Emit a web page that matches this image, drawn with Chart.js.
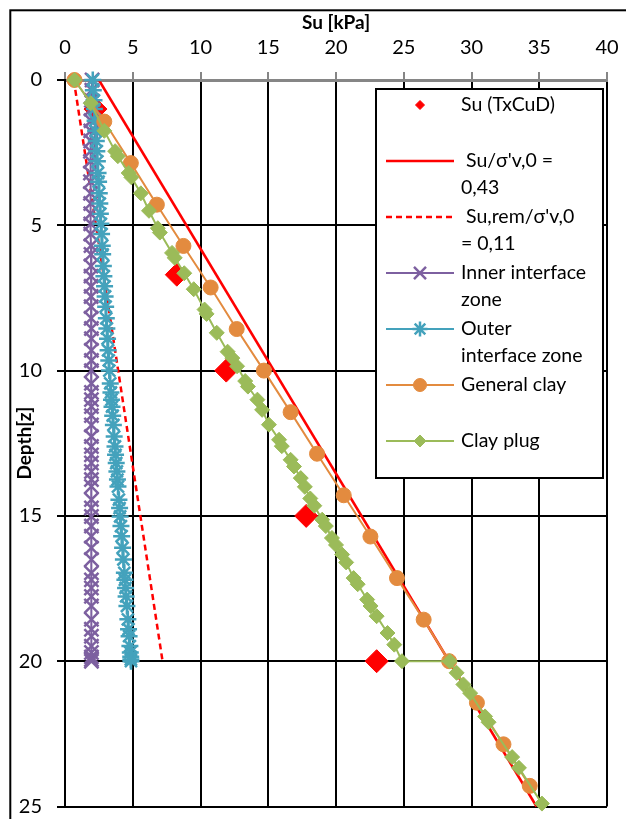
<!DOCTYPE html>
<html>
<head>
<meta charset="utf-8">
<title>Su profile</title>
<script src="https://cdn.jsdelivr.net/npm/chart.js@4.4.0/dist/chart.umd.min.js"></script>
<style>
  html, body { margin: 0; padding: 0; background: #fff; }
  canvas { display: block; }
</style>
</head>
<body>
<canvas id="chart-su" width="626" height="819"></canvas>
<script>
// ===============================
// Dados
// ===============================
const suTicks = [0, 5, 10, 15, 20, 25, 30, 35, 40];
const depthTicks = [0, 5, 10, 15, 20, 25];

const seriesLabels = [
  "Su (TxCuD)",
  " Su/σ'v,0 =\n0,43",
  " Su,rem/σ'v,0\n= 0,11",
  "Inner interface\nzone",
  "Outer\ninterface zone",
  "General clay",
  "Clay plug"
];

// Ensaios triaxiais
const txDepth = [1.0, 6.7, 10.0, 15.0, 20.0];
const txSu = [2.25, 8.25, 11.9, 17.8, 23.0];

// Linhas de referência
const ratioDepth = [0, 25];
const ratioSu = [2.5, 34.8];
const remDepth = [0, 20];
const remSu = [0.65, 7.2];

// Zonas de interface (mesmos nós)
const interfaceDepth = [
  0, 0.35, 0.7, 1.0, 1.4, 1.75, 2.1, 2.45, 2.8, 3.2,
  3.5, 3.9, 4.25, 4.6, 4.95, 5.3, 5.7, 6.0, 6.4, 6.75,
  7.1, 7.45, 7.8, 8.2, 8.55, 8.9, 9.3, 9.65, 10.0, 10.44,
  10.75, 11.0, 11.24, 11.55, 11.87, 12.27, 12.61, 12.9, 13.18, 13.47,
  13.75, 13.99, 14.44, 14.73, 15.02, 15.35, 15.7, 16.1, 16.5, 16.96,
  17.2, 17.48, 17.77, 18.1, 18.56, 18.9, 19.14, 19.48, 19.7, 19.85,
  19.94, 20.0
];
const innerSu = [
  2.0, 1.98, 1.95, 1.93, 1.92, 1.9, 1.9, 1.88, 1.88, 1.88,
  1.88, 1.88, 1.9, 1.9, 1.9, 1.9, 1.92, 1.92, 1.92, 1.92,
  1.93, 1.93, 1.93, 1.93, 1.95, 1.95, 1.95, 1.95, 1.95, 1.95,
  1.95, 1.95, 1.95, 1.95, 1.95, 1.95, 1.95, 1.95, 1.95, 1.95,
  1.95, 1.95, 1.95, 1.95, 1.95, 1.95, 1.95, 1.95, 1.95, 1.95,
  1.95, 1.95, 1.95, 1.95, 1.95, 1.95, 1.95, 1.95, 1.95, 1.95,
  1.95, 1.95
];
const outerSu = [
  2.05, 2.09, 2.14, 2.17, 2.22, 2.26, 2.31, 2.35, 2.39, 2.44,
  2.48, 2.53, 2.57, 2.61, 2.65, 2.7, 2.75, 2.78, 2.83, 2.87,
  2.92, 2.96, 3.0, 3.05, 3.09, 3.14, 3.18, 3.23, 3.27, 3.34,
  3.39, 3.43, 3.47, 3.52, 3.57, 3.63, 3.69, 3.73, 3.78, 3.83,
  3.87, 3.91, 3.98, 4.03, 4.07, 4.13, 4.18, 4.25, 4.31, 4.38,
  4.42, 4.47, 4.51, 4.57, 4.64, 4.69, 4.73, 4.79, 4.82, 4.85,
  4.86, 4.87
];

// Argila geral
const clayDepth = [0, 1.43, 2.86, 4.29, 5.71, 7.14, 8.57, 10.0, 11.43, 12.86, 14.29, 15.71, 17.14, 18.57, 20.0, 21.43, 22.86, 24.29];
const claySu = [0.7, 2.9, 4.86, 6.78, 8.74, 10.75, 12.67, 14.68, 16.65, 18.6, 20.57, 22.54, 24.5, 26.47, 28.35, 30.4, 32.36, 34.3];

// Plug de argila
const plugDepth = [
  0, 0.8, 1.75, 2.45, 2.62, 3.2, 3.35, 3.9, 4.5, 5.1,
  5.25, 5.95, 6.12, 6.65, 7.2, 7.9, 8.05, 8.7, 9.35, 9.57,
  9.85, 10.36, 10.55, 11.0, 11.35, 11.86, 12.38, 12.6, 13.07, 13.3,
  13.7, 14.0, 14.4, 14.65, 15.13, 15.35, 15.76, 16.0, 16.33, 16.6,
  17.14, 17.35, 17.88, 18.1, 18.45, 19.03, 19.43, 20.0, 20.0, 20.4,
  20.8, 21.1, 21.9, 22.1, 23.3, 23.67, 24.9
];
const plugSu = [
  0.7, 1.9, 2.9, 3.7, 3.9, 4.7, 4.9, 5.6, 6.2, 6.85,
  7.0, 7.9, 8.1, 8.8, 9.5, 10.3, 10.45, 11.2, 12.0, 12.35,
  12.7, 13.3, 13.5, 14.2, 14.55, 15.05, 15.8, 16.0, 16.65, 16.9,
  17.4, 17.7, 18.1, 18.4, 18.98, 19.25, 19.7, 20.0, 20.45, 20.75,
  21.3, 21.6, 22.3, 22.55, 23.0, 23.8, 24.3, 24.87, 28.4, 28.9,
  29.4, 29.9, 31.0, 31.26, 33.0, 33.5, 35.2
];

// Cores
const RED = "#FF0000";
const PURPLE = "#7D60A0";
const TEAL = "#44A2BC";
const ORANGE = "#E38B3F";
const GREEN = "#9BBB59";
const FONT = "Lato, 'Liberation Sans', sans-serif";

function toPoints(xs, ys) {
  return xs.map((x, i) => ({ x: x, y: ys[i] }));
}

function label(i) {
  return seriesLabels[i].replace("\n", " ").trim();
}

// ===============================
// Séries
// ===============================
const datasets = [
  {
    label: label(0),
    data: toPoints(txSu, txDepth),
    showLine: false,
    pointStyle: "rectRot",
    pointRadius: 11.5,
    pointBorderWidth: 1,
    pointBackgroundColor: RED,
    pointBorderColor: RED,
    legendRadius: 4.5,
    order: 6
  },
  {
    label: label(1),
    data: toPoints(ratioSu, ratioDepth),
    showLine: true,
    borderColor: RED,
    borderWidth: 2.5,
    pointRadius: 0,
    order: 5
  },
  {
    label: label(2),
    data: toPoints(remSu, remDepth),
    showLine: true,
    borderColor: RED,
    borderWidth: 2.5,
    borderDash: [6, 4],
    pointRadius: 0,
    order: 4
  },
  {
    label: label(3),
    data: toPoints(innerSu, interfaceDepth),
    showLine: true,
    borderColor: PURPLE,
    borderWidth: 2,
    pointStyle: "crossRot",
    pointRadius: 10,
    pointBorderWidth: 2.5,
    pointBackgroundColor: PURPLE,
    pointBorderColor: PURPLE,
    legendRadius: 8.5,
    order: 3
  },
  {
    label: label(4),
    data: toPoints(outerSu, interfaceDepth),
    showLine: true,
    borderColor: TEAL,
    borderWidth: 2,
    pointStyle: "star",
    pointRadius: 8.5,
    pointBorderWidth: 2.5,
    pointBackgroundColor: TEAL,
    pointBorderColor: TEAL,
    legendRadius: 7.5,
    order: 2
  },
  {
    label: label(5),
    data: toPoints(claySu, clayDepth),
    showLine: true,
    borderColor: ORANGE,
    borderWidth: 2,
    pointStyle: "circle",
    pointRadius: 7.5,
    pointBorderWidth: 1,
    pointBackgroundColor: ORANGE,
    pointBorderColor: ORANGE,
    legendRadius: 6.5,
    order: 1
  },
  {
    label: label(6),
    data: toPoints(plugSu, plugDepth),
    showLine: true,
    borderColor: GREEN,
    borderWidth: 2,
    pointStyle: "rectRot",
    pointRadius: 7.5,
    pointBorderWidth: 1,
    pointBackgroundColor: GREEN,
    pointBorderColor: GREEN,
    legendRadius: 6,
    order: 0
  }
];
datasets.forEach(ds => { ds.clip = false; ds.tension = 0; });

// ===============================
// Plugins: moldura e legenda
// ===============================
const chartFrame = {
  id: "chartFrame",
  beforeDraw(chart) {
    const ctx = chart.ctx;
    ctx.save();
    ctx.strokeStyle = "#000";
    ctx.lineWidth = 2;
    ctx.strokeRect(10.3, 10.3, 700, 900);
    ctx.restore();
  }
};

const legendBox = {
  id: "legendBox",
  afterDraw(chart) {
    const ctx = chart.ctx;
    const box = { left: 376, top: 89, width: 227, height: 389 };
    ctx.save();
    ctx.fillStyle = "#fff";
    ctx.fillRect(box.left, box.top, box.width, box.height);
    ctx.strokeStyle = "#000";
    ctx.lineWidth = 2;
    ctx.strokeRect(box.left, box.top, box.width, box.height);

    chart.data.datasets.forEach((ds, i) => {
      const y = 105 + i * 56;
      if (ds.showLine) {
        ctx.beginPath();
        ctx.strokeStyle = ds.borderColor;
        ctx.lineWidth = ds.borderWidth;
        ctx.setLineDash(ds.borderDash || []);
        ctx.moveTo(386, y);
        ctx.lineTo(454, y);
        ctx.stroke();
        ctx.setLineDash([]);
      }
      if (ds.pointRadius > 0) {
        ctx.fillStyle = ds.pointBackgroundColor;
        ctx.strokeStyle = ds.pointBorderColor;
        ctx.lineWidth = ds.pointBorderWidth;
        Chart.helpers.drawPoint(ctx, {
          pointStyle: ds.pointStyle,
          radius: ds.legendRadius,
          borderWidth: ds.pointBorderWidth,
          rotation: 0
        }, 420, y);
      }
      ctx.fillStyle = "#000";
      ctx.font = "19.5px " + FONT;
      ctx.textAlign = "left";
      ctx.textBaseline = "middle";
      seriesLabels[i].split("\n").forEach((line, k) => {
        ctx.fillText(line, 461, y + k * 27);
      });
    });
    ctx.restore();
  }
};

// ===============================
// Gráfico
// ===============================
const ctxSu = document.getElementById("chart-su");
new Chart(ctxSu, {
  type: "scatter",
  data: { datasets: datasets },
  options: {
    responsive: false,
    animation: false,
    events: [],
    layout: { padding: { left: 0, top: 0, right: 19, bottom: 12 } },
    plugins: {
      legend: { display: false },
      tooltip: { enabled: false }
    },
    scales: {
      x: {
        type: "linear",
        position: "top",
        min: 0,
        max: 40,
        afterBuildTicks: scale => { scale.ticks = suTicks.map(v => ({ value: v })); },
        afterFit: scale => {
          scale.height = 80;
          scale.paddingLeft = 0;
          scale.paddingRight = 0;
        },
        grid: { color: "#000", lineWidth: 2, tickColor: "#868686", tickWidth: 2, tickLength: 8 },
        border: { color: "#868686", width: 3 },
        ticks: { padding: 12, color: "#000", font: { family: FONT, size: 20 } },
        title: {
          display: true,
          text: "Su [kPa]",
          color: "#000",
          font: { family: FONT, size: 19, weight: "bold" },
          padding: { top: 11, bottom: 0 }
        }
      },
      y: {
        type: "linear",
        reverse: true,
        min: 0,
        max: 25,
        afterBuildTicks: scale => { scale.ticks = depthTicks.map(v => ({ value: v })); },
        afterFit: scale => {
          scale.width = 65;
          scale.paddingTop = 0;
          scale.paddingBottom = 0;
        },
        grid: { color: "#000", lineWidth: 2, tickLength: 8 },
        border: { color: "#000", width: 2 },
        ticks: { padding: 15, color: "#000", font: { family: FONT, size: 20 } },
        title: {
          display: true,
          text: "Depth[z]",
          color: "#000",
          font: { family: FONT, size: 19, weight: "bold" },
          padding: { top: 13.5, bottom: 0 }
        }
      }
    }
  },
  plugins: [chartFrame, legendBox]
});
</script>
</body>
</html>
